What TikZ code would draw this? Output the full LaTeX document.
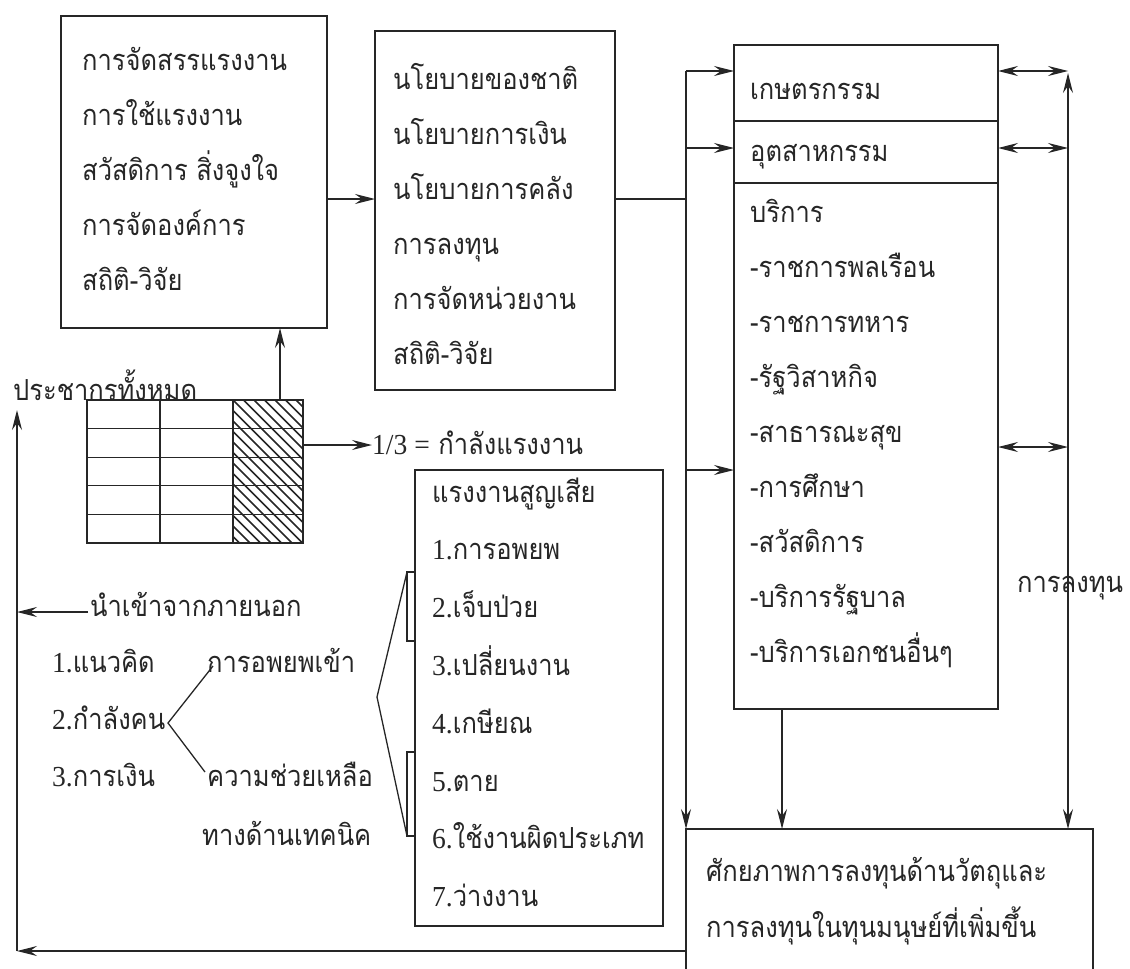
\documentclass[tikz,border=0pt]{standalone}
\usepackage{fontspec}
\setmainfont[Script=Thai,FakeStretch=0.88]{Loma}
\newfontfamily\lat[FakeStretch=0.95]{Liberation Serif}
\usetikzlibrary{arrows.meta}
\newcommand\tsz{\fontsize{29pt}{32pt}\selectfont}
\tikzset{
 ln/.style={line width=1.3pt, draw=black!85},
 box/.style={ln, draw, anchor=north west, inner sep=0pt, outer sep=0pt},
 txt/.style={anchor=base west, inner sep=0pt, font=\tsz, text=black!85},
 tip/.tip={Stealth[length=20pt,width=10pt,inset=7pt]},
 arr/.style={ln, -tip},
 darr/.style={ln, tip-tip},
}
\begin{document}
\begin{tikzpicture}[x=1pt,y=-1pt]
\useasboundingbox (0,0) rectangle (1130,969);
% boxes
\node[box, minimum width=266pt, minimum height=312pt] (A) at (61,16) {};
\node[box, minimum width=240pt, minimum height=359pt] (B) at (375,31) {};
\node[box, minimum width=264pt, minimum height=664pt] (C) at (734,45) {};
\draw[ln] (C.west |- 0,121) -- (C.east |- 0,121);
\draw[ln] (C.west |- 0,183) -- (C.east |- 0,183);
\node[box, minimum width=248pt, minimum height=456pt] (L) at (415,470) {};
\node[box, minimum width=407pt, minimum height=170pt] (D) at (686,829) {};
\node[box, minimum width=216pt, minimum height=143pt] (G) at (87,400) {};
% grid inner lines and hatching
\begin{scope}
\clip (233,400) rectangle (303,543);
\foreach \k in {-15,...,8} \draw[line width=1.5pt, black!85] (233+10.5*\k,400) -- ++(143,143);
\end{scope}
\foreach \xx in {160,233} \draw[ln] (\xx,400) -- (\xx,543);
\foreach \yy in {428.6,457.2,485.8,514.4} \draw[ln] (87,\yy) -- (303,\yy);
% box A text
\foreach \t [count=\i from 0] in {การจัดสรรแรงงาน,การใช้แรงงาน,สวัสดิการ สิ่งจูงใจ,การจัดองค์การ,สถิติ-วิจัย}
  \node[txt] (a\i) at (82,70+55*\i) {\t};
% box B text
\foreach \t [count=\i from 0] in {นโยบายของชาติ,นโยบายการเงิน,นโยบายการคลัง,การลงทุน,การจัดหน่วยงาน,สถิติ-วิจัย}
  \node[txt] (b\i) at (393,89+55*\i) {\t};
% box C text
\node[txt] (c1) at (750,99) {เกษตรกรรม};
\node[txt] (c2) at (750,161) {อุตสาหกรรม};
\foreach \t [count=\i from 0] in {บริการ,-ราชการพลเรือน,-ราชการทหาร,-รัฐวิสาหกิจ,-สาธารณะสุข,-การศึกษา,-สวัสดิการ,-บริการรัฐบาล,-บริการเอกชนอื่นๆ}
  \node[txt] (s\i) at (750,222+55*\i) {\t};
% labour loss box text
\foreach \t [count=\i from 0] in {แรงงานสูญเสีย,{{\lat 1.}การอพยพ},{{\lat 2.}เจ็บป่วย},{{\lat 3.}เปลี่ยนงาน},{{\lat 4.}เกษียณ},{{\lat 5.}ตาย},{{\lat 6.}ใช้งานผิดประเภท},{{\lat 7.}ว่างงาน}}
  \node[txt] (l\i) at (432,502+57.8*\i) {\t};
% box D text
\node[txt] (d1) at (706,881) {ศักยภาพการลงทุนด้านวัตถุและ};
\node[txt] (d2) at (706,937) {การลงทุนในทุนมนุษย์ที่เพิ่มขึ้น};
% left texts
\node[txt] (pop) at (13,400) {ประชากรทั้งหมด};
\node[txt] (third) at (372,454) {{\lat 1/3 =} กำลังแรงงาน};
\node[txt] (imp) at (90,616) {นำเข้าจากภายนอก};
\node[txt] (k1) at (52,672) {{\lat 1.}แนวคิด};
\node[txt] (k2) at (52,729) {{\lat 2.}กำลังคน};
\node[txt] (k3) at (52,786) {{\lat 3.}การเงิน};
\node[txt] (m1) at (207,672) {การอพยพเข้า};
\node[txt] (m2) at (207,786) {ความช่วยเหลือ};
\node[txt] (m3) at (202,845) {ทางด้านเทคนิค};
\node[txt] (inv) at (1017,592) {การลงทุน};
% coordinates
\coordinate (busT) at (686,71);
\coordinate (rT) at (1068,73);
\coordinate (bl) at (17,951);
\coordinate (popin) at (17,410);
\coordinate (impS) at (88,612);
\coordinate (fork) at (168,723);
\coordinate (up) at (213,666);
\coordinate (dn) at (205,772);
% connectors
\draw[arr] (A.east |- 0,199) -- (B.west |- 0,199);
\draw[ln] (B.east |- 0,199) -- (busT |- 0,199);
\draw[arr] (busT) -- (C.west |- busT);
\draw[arr] (busT |- 0,148) -- (C.west |- 0,148);
\draw[arr] (busT |- 0,470) -- (C.west |- 0,470);
\draw[arr] (busT) -- (busT |- D.north);
\draw[darr] (C.east |- 0,71) -- (rT |- 0,71);
\draw[darr] (C.east |- 0,148) -- (rT |- 0,148);
\draw[darr] (C.east |- 0,447) -- (rT |- 0,447);
\draw[darr] (rT) -- (rT |- D.north);
\draw[arr] (C.south -| 782,0) -- (D.north -| 782,0);
\draw[arr] (D.west |- bl) -- (bl);
\draw[arr] (bl) -- (popin);
\draw[arr] (impS) -- (impS -| bl);
\draw[arr] (G.north -| 280,0) -- (A.south -| 280,0);
\draw[arr] (G.east |- 0,445) -- (third.west |- 0,445);
\draw[ln] (up) -- (fork) -- (dn);
% bracket to labour loss box
\draw[ln] (407,572) rectangle (L.west |- 0,641);
\draw[ln] (407,752) rectangle (L.west |- 0,836);
\draw[ln] (407,572) -- (377,697) -- (407,836);
\end{tikzpicture}
\end{document}
